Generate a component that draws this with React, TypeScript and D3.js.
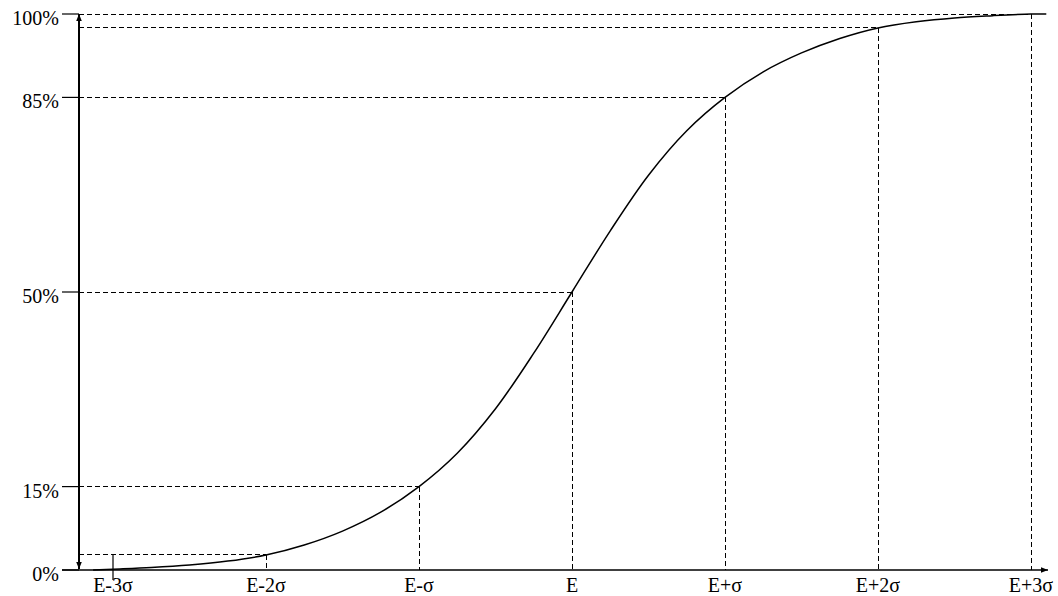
import * as d3 from "d3";

// curve: x in sigma units from E, y in percent
const curveX = [-3.13, -3, -2.75, -2.5, -2.25, -2, -1.75, -1.5, -1.25, -1, -0.75, -0.5, -0.25, 0, 0.25, 0.5, 0.75, 1, 1.25, 1.5, 1.75, 2, 2.25, 2.5, 2.75, 3, 3.1];
const curveY = [0, 0.15, 0.45, 0.9, 1.6, 2.7, 4.5, 7.0, 10.4, 15, 21, 29, 39, 50, 61, 71, 79, 85, 89.6, 93, 95.6, 97.5, 98.6, 99.3, 99.7, 100, 100];

const tickSigma = [-3, -2, -1, 0, 1, 2, 3];
const tickLabels = ["E-3σ", "E-2σ", "E-σ", "E", "E+σ", "E+2σ", "E+3σ"];

const yTicks = [0, 15, 50, 85, 100];
const yLabels = ["0%", "15%", "50%", "85%", "100%"];

// reference levels: where dashed guides meet the curve
const refSigma = [-2, -1, 0, 1, 2, 3];
const refPct = [2.7, 15, 50, 85, 97.5, 100];

const width = 1058;
const height = 596;
const axisX = 79;
const font = "Liberation Serif";

export default function App() {
  const x = d3.scaleLinear([-3, 3], [113, 1031]);
  const y = d3.scaleLinear([0, 100], [570, 14]);

  const line = d3
    .line<number>()
    .x((d) => x(d))
    .y((d, i) => y(curveY[i]))
    .curve(d3.curveCatmullRom.alpha(0.5));

  return (
    <svg
      width={width}
      height={height}
      style={{ position: "absolute", left: 0, top: 0, background: "#fff" }}
    >
      <defs>
        <marker id="arr" viewBox="0 0 10 10" refX="10" refY="5" markerWidth="7" markerHeight="7" orient="auto-start-reverse" markerUnits="userSpaceOnUse">
          <path d="M0,1 L10,5 L0,9 Z" fill="#000" />
        </marker>
      </defs>

      {/* dashed guides */}
      {refSigma.map((s, i) => (
        <g key={i} stroke="#000" strokeWidth={1} strokeDasharray="5,3" fill="none" shapeRendering="crispEdges">
          <line x1={axisX} x2={x(s)} y1={y(refPct[i])} y2={y(refPct[i])} />
          <line x1={x(s)} x2={x(s)} y1={y(refPct[i])} y2={y(0)} />
        </g>
      ))}
      {/* solid tick at E-3σ */}
      <line x1={x(-3)} x2={x(-3)} y1={y(refPct[0])} y2={y(0) + 10} stroke="#000" strokeWidth={1.2} />

      <path d={line(curveX) ?? ""} fill="none" stroke="#000" strokeWidth={1.5} />

      {/* x axis */}
      <line x1={62} x2={1048} y1={y(0)} y2={y(0)} stroke="#000" strokeWidth={1.5} markerEnd="url(#arr)" />
      {/* y axis, arrows both ends */}
      <line x1={axisX} x2={axisX} y1={y(0) - 1} y2={y(100)} stroke="#000" strokeWidth={2} markerStart="url(#arr)" markerEnd="url(#arr)" />

      {yTicks.map((t, i) => (
        <g key={t}>
          <line x1={62} x2={axisX} y1={y(t)} y2={y(t)} stroke="#000" strokeWidth={1.2} />
          <text x={59} y={y(t) + 11} textAnchor="end" fontFamily={font} fontSize={20}>
            {yLabels[i]}
          </text>
        </g>
      ))}

      {tickSigma.map((s, i) => (
        <text key={s} x={x(s)} y={592} textAnchor="middle" fontFamily={font} fontSize={20}>
          {tickLabels[i]}
        </text>
      ))}
    </svg>
  );
}
